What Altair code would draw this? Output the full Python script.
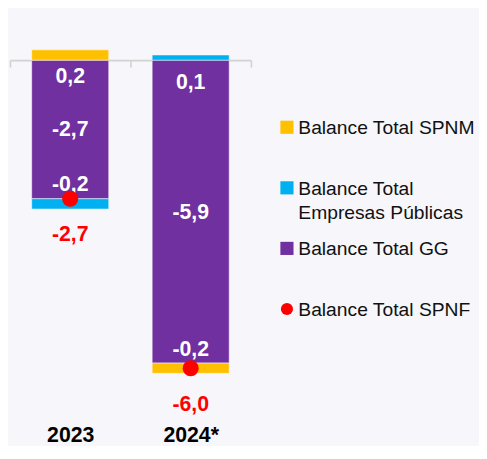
import altair as alt
import pandas as pd

# ---- data ----
years = ["2023", "2024*"]
series = [
    "Balance Total SPNM",
    "Balance Total Empresas Públicas",
    "Balance Total GG",
    "Balance  Total SPNF",
]
legend_labels = [
    "Balance Total SPNM",
    "Balance Total\nEmpresas Públicas",
    "Balance Total GG",
    "Balance  Total SPNF",
]
colors = ["#FFC000", "#00B0F0", "#7030A0", "#FF0000"]
spnm = [0.2, -0.2]
empresas = [-0.2, 0.1]
gg = [-2.7, -5.9]
spnf = [-2.7, -6.0]


def fmt(v):
    return f"{v:.1f}".replace(".", ",")


rows = []
for i, yr in enumerate(years):
    for name, vals, orden in [
        (series[2], gg, 0),
        (series[1], empresas, 1),
        (series[0], spnm, 2),
    ]:
        rows.append({"year": yr, "serie": name, "value": vals[i],
                     "orden": orden, "label": fmt(vals[i])})
bars_df = pd.DataFrame(rows)
tot_df = pd.DataFrame({"year": years, "serie": series[3], "value": spnf,
                       "label": [fmt(v) for v in spnf]})
leg_df = pd.DataFrame({"serie": series, "label": legend_labels,
                       "kind": ["sq", "sq", "sq", "ci"]})

NUM_FONT = "Liberation Sans Narrow, Arial Narrow, Liberation Sans, Arial"
TXT_FONT = "Liberation Sans, Arial"
NUM_SIZE = 21.5
H = 364
yscale = alt.Scale(domain=[-7.0, 0], nice=False)
colorscale = alt.Scale(domain=series, range=colors)
xaxis = alt.Axis(title=None, labelAngle=0, orient="bottom", offset=-H,
                 tickBand="extent", domainColor="#D2D2D2", domainWidth=1.6,
                 tickColor="#D2D2D2", tickWidth=1.6, tickSize=7,
                 labelPadding=362, labelFont=NUM_FONT, labelFontSize=NUM_SIZE,
                 labelFontWeight="bold", labelColor="#000000", grid=False)
xenc = alt.X("year:N", sort=years, scale=alt.Scale(paddingInner=0, paddingOuter=0),
             axis=xaxis)

base = alt.Chart(bars_df).transform_stack(
    stack="value", groupby=["year"], as_=["v0", "v1"],
    sort=[alt.SortField("orden", order="ascending")],
)

bars = base.mark_bar(size=78, stroke="#ffffff", strokeWidth=1, strokeOpacity=0.5).encode(
    x=xenc,
    y=alt.Y("v0:Q", scale=yscale, axis=None),
    y2="v1:Q",
    color=alt.Color("serie:N", scale=colorscale, legend=None),
)

txt = dict(font=NUM_FONT, fontSize=NUM_SIZE, fontWeight="bold", color="#FFFFFF",
           baseline="middle", align="center")

gg_lbl = base.transform_filter("datum.orden == 0").transform_calculate(
    mid="(datum.v0 + datum.v1) / 2"
).mark_text(dy=1, **txt).encode(x=xenc, y=alt.Y("mid:Q", scale=yscale, axis=None), text="label:N")

pos_lbl = base.transform_filter("datum.orden > 0 && datum.value > 0").mark_text(
    dy=28, **txt).encode(x=xenc, y=alt.Y("v1:Q", scale=yscale, axis=None), text="label:N")

neg_lbl = base.transform_filter("datum.orden > 0 && datum.value < 0").mark_text(
    dy=-24, **txt).encode(x=xenc, y=alt.Y("v1:Q", scale=yscale, axis=None), text="label:N")

tot_txt = dict(txt)
tot_txt["color"] = "#FF0000"
tot_lbl = alt.Chart(tot_df).mark_text(dy=37, **tot_txt).encode(
    x=xenc, y=alt.Y("value:Q", scale=yscale, axis=None), text="label:N")

dots = alt.Chart(tot_df).mark_circle(size=265, opacity=1, color="#FF0000").encode(
    x=xenc, y=alt.Y("value:Q", scale=yscale, axis=None))

main = alt.layer(bars, gg_lbl, pos_lbl, neg_lbl, tot_lbl, dots)

# ---- legend drawn as its own layer ----
leg_y = alt.Y("serie:N", scale=alt.Scale(type="point", domain=series, range=[68, 252], padding=0),
              axis=None)
leg = alt.Chart(leg_df)
leg_sq = leg.transform_filter("datum.kind == 'sq'").mark_square(size=177, opacity=1).encode(
    y=leg_y, x=alt.value(280.5), color=alt.Color("serie:N", scale=colorscale, legend=None))
leg_ci = leg.transform_filter("datum.kind == 'ci'").mark_circle(size=150, opacity=1).encode(
    y=leg_y, x=alt.value(280.5), color=alt.Color("serie:N", scale=colorscale, legend=None))
leg_txt = leg.mark_text(align="left", baseline="alphabetic", dy=7, fontSize=19.5,
                        font=TXT_FONT, color="#111111", lineBreak="\n",
                        lineHeight=25).encode(y=leg_y, x=alt.value(292), text="label:N")
legend = alt.layer(leg_sq, leg_ci, leg_txt)

chart = alt.layer(main, legend).resolve_scale(y="independent").properties(
    width=244, height=H,
    padding={"left": 2, "top": 50, "right": 231, "bottom": 24},
    autosize=alt.AutoSizeParams(type="none"),
    background="#F6F6FB",
).configure_view(stroke=None)

chart.save("out.html", embed_options={"renderer": "svg", "actions": False})
